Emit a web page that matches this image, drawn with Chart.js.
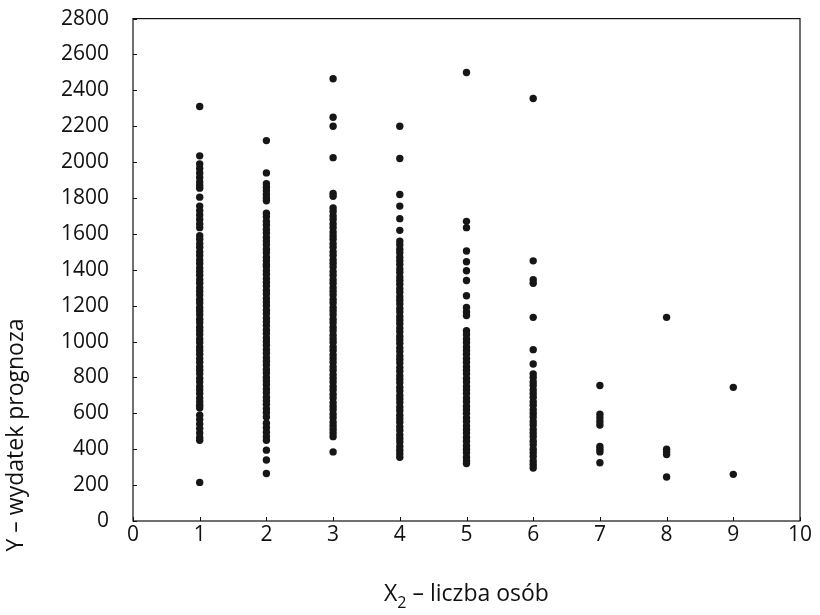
<!DOCTYPE html>
<html>
<head>
<meta charset="utf-8">
<title>Wydatek a liczba osób</title>
<script src="https://cdn.jsdelivr.net/npm/chart.js@4.4.1/dist/chart.umd.min.js"></script>
<style>
    html, body { margin: 0; padding: 0; background: #ffffff; overflow: hidden; }
    #wrap { width: 820px; height: 615px; position: relative; overflow: hidden; }
    #inner { position: absolute; left: 0; top: -18px; width: 820px; height: 633px; }
</style>
</head>
<body>
<div id="wrap"><div id="inner"><canvas id="scatterChart"></canvas></div></div>
<script>
// Scatter of forecast spending (Y) against household size (X2).
// Values, one array per household size.

const householdSizes = [1, 2, 3, 4, 5, 6, 7, 8, 9];

const spendSize1 = [2310, 2035, 1990, 1965, 1940, 1915, 1890, 1870, 1855, 1805, 1755, 1730, 1705, 1680, 1655, 1635,
    1590, 1570, 1545, 1525, 1500, 1480, 1455, 1435, 1410, 1390, 1370, 1345, 1325, 1300, 1280, 1260, 1235, 1215,
    1190, 1170, 1150, 1125, 1105, 1080, 1060, 1040, 1015, 995, 970, 950, 930, 905, 885, 860, 840, 820, 795, 775,
    750, 730, 710, 685, 665, 645, 630, 590, 565, 540, 515, 490, 465, 450, 215];

const spendSize2 = [2120, 1940, 1880, 1860, 1840, 1820, 1800, 1785, 1715, 1695, 1670, 1650, 1625, 1605, 1580, 1560,
    1540, 1515, 1495, 1470, 1450, 1430, 1418, 1395, 1375, 1350, 1330, 1310, 1285, 1265, 1240, 1220, 1200, 1175,
    1155, 1130, 1110, 1090, 1065, 1045, 1020, 1000, 980, 955, 935, 910, 890, 870, 845, 825, 800, 780, 760, 735,
    715, 690, 670, 650, 625, 605, 580, 545, 520, 495, 470, 450, 395, 340, 265];

const spendSize3 = [2465, 2250, 2200, 2025, 1825, 1810, 1745, 1725, 1700, 1680, 1655, 1635, 1610, 1590, 1570, 1545,
    1525, 1500, 1480, 1455, 1435, 1415, 1390, 1370, 1345, 1325, 1300, 1280, 1260, 1235, 1215, 1190, 1170, 1150,
    1125, 1105, 1080, 1060, 1035, 1015, 995, 970, 950, 925, 905, 885, 860, 840, 815, 795, 775, 750, 730, 705,
    685, 660, 640, 620, 595, 575, 550, 530, 510, 490, 470, 385];

const spendSize4 = [2200, 2020, 1820, 1755, 1685, 1620, 1560, 1540, 1515, 1495, 1470, 1450, 1430, 1405, 1385, 1360,
    1340, 1320, 1295, 1275, 1250, 1230, 1210, 1185, 1165, 1140, 1120, 1100, 1075, 1055, 1030, 1010, 990, 965,
    945, 920, 900, 880, 855, 835, 810, 790, 770, 745, 725, 700, 680, 660, 635, 615, 590, 570, 550, 525, 505,
    480, 460, 440, 415, 395, 375, 355];

const spendSize5 = [2500, 1670, 1635, 1505, 1445, 1395, 1340, 1255, 1190, 1165, 1145, 1060, 1040, 1015, 995, 970,
    950, 930, 905, 885, 860, 840, 820, 795, 775, 750, 730, 710, 685, 665, 640, 620, 600, 575, 555, 530, 510,
    490, 465, 445, 420, 400, 380, 355, 335, 320];

const spendSize6 = [2355, 1450, 1345, 1325, 1135, 955, 875, 820, 800, 775, 755, 730, 710, 690, 665, 645, 620, 600,
    580, 555, 535, 510, 490, 470, 445, 425, 400, 380, 360, 335, 315, 295];

const spendSize7 = [755, 595, 575, 555, 535, 415, 400, 385, 325];
const spendSize8 = [1135, 400, 385, 370, 245];
const spendSize9 = [745, 260];

const spendBySize = [spendSize1, spendSize2, spendSize3, spendSize4, spendSize5, spendSize6, spendSize7, spendSize8, spendSize9];

const xTickValues = [0, 1, 2, 3, 4, 5, 6, 7, 8, 9, 10];
const yTickValues = [0, 200, 400, 600, 800, 1000, 1200, 1400, 1600, 1800, 2000, 2200, 2400, 2600, 2800];

const yTitle = 'Y \u2013 wydatek prognoza';
const xTitleMain = 'X';
const xTitleSub = '2';
const xTitleRest = ' \u2013 liczba osób';

const FONT = '"Open Sans", "DejaVu Sans", sans-serif';
const INK = '#111111';
const SHIFT = 18; // canvas sits 18px above the page top

function buildPoints() {
    const points = [];
    householdSizes.forEach((size, i) => {
        spendBySize[i].forEach((value) => {
            points.push({ x: size, y: value });
        });
    });
    return points;
}

// frame box, inward tick marks and the two axis titles
const framePlugin = {
    id: 'frameAndTitles',
    afterDraw(chart) {
        const ctx = chart.ctx;
        const area = chart.chartArea;
        const xScale = chart.scales.x;
        const yScale = chart.scales.y;

        ctx.save();
        ctx.strokeStyle = INK;
        ctx.lineWidth = 1.2;
        ctx.strokeRect(area.left, area.top, area.right - area.left, area.bottom - area.top);

        ctx.lineWidth = 1;
        ctx.beginPath();
        xTickValues.forEach((v) => {
            const px = Math.round(xScale.getPixelForValue(v)) + 0.5;
            ctx.moveTo(px, area.bottom);
            ctx.lineTo(px, area.bottom - 4);
        });
        yTickValues.forEach((v) => {
            const py = Math.round(yScale.getPixelForValue(v)) + 0.5;
            ctx.moveTo(area.left, py);
            ctx.lineTo(area.left + 4, py);
        });
        ctx.stroke();

        ctx.fillStyle = INK;
        ctx.textBaseline = 'middle';

        // y title, rotated
        ctx.save();
        ctx.translate(16, 435 + SHIFT);
        ctx.rotate(-Math.PI / 2);
        ctx.font = `23px ${FONT}`;
        ctx.textAlign = 'center';
        ctx.fillText(yTitle, 0, 0);
        ctx.restore();

        // x title with subscript
        ctx.font = `23px ${FONT}`;
        const wMain = ctx.measureText(xTitleMain).width;
        const wRest = ctx.measureText(xTitleRest).width;
        ctx.font = `16px ${FONT}`;
        const wSub = ctx.measureText(xTitleSub).width;
        const total = wMain + wSub + wRest;
        const cx = (area.left + area.right) / 2;
        let tx = cx - total / 2;
        const ty = 594 + SHIFT;
        ctx.textAlign = 'left';
        ctx.font = `23px ${FONT}`;
        ctx.fillText(xTitleMain, tx, ty);
        tx += wMain;
        ctx.font = `16px ${FONT}`;
        ctx.fillText(xTitleSub, tx, ty + 9);
        tx += wSub;
        ctx.font = `23px ${FONT}`;
        ctx.fillText(xTitleRest, tx, ty);
        ctx.restore();
    }
};

new Chart(document.getElementById('scatterChart'), {
    type: 'scatter',
    data: {
        datasets: [
            {
                label: 'wydatek',
                data: buildPoints(),
                backgroundColor: '#161616',
                borderWidth: 0,
                pointRadius: 3.7,
                pointHoverRadius: 3.7,
            }
        ]
    },
    options: {
        responsive: true,
        maintainAspectRatio: false,
        animation: false,
        events: [],
        layout: {
            padding: { left: 0, right: 20, top: 0, bottom: 0 }
        },
        plugins: {
            legend: { display: false },
            tooltip: { enabled: false }
        },
        scales: {
            x: {
                type: 'linear',
                min: 0,
                max: 10,
                afterBuildTicks(scale) {
                    scale.ticks = xTickValues.map((v) => ({ value: v }));
                },
                afterFit(scale) {
                    scale.height = 94;
                },
                grid: { display: false, drawTicks: false },
                border: { display: false },
                ticks: {
                    padding: 1,
                    color: INK,
                    font: { family: FONT, size: 21 },
                    callback: (value) => String(value)
                }
            },
            y: {
                type: 'linear',
                min: 0,
                max: 2800,
                afterBuildTicks(scale) {
                    scale.ticks = yTickValues.map((v) => ({ value: v }));
                },
                afterFit(scale) {
                    scale.width = 133;
                },
                grid: { display: false, drawTicks: false },
                border: { display: false },
                ticks: {
                    padding: 24,
                    color: INK,
                    font: { family: FONT, size: 21 },
                    callback: (value) => String(value)
                }
            }
        }
    },
    plugins: [framePlugin]
});
</script>
</body>
</html>
